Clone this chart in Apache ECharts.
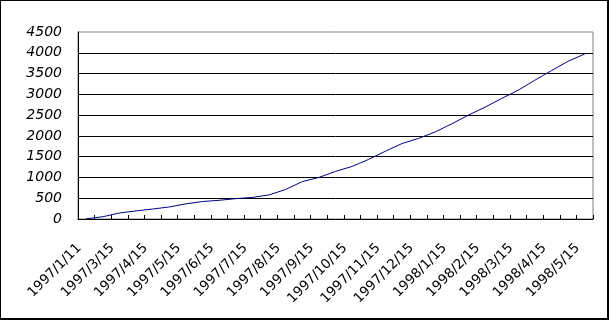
<!DOCTYPE html>
<html>
<head>
<meta charset="utf-8">
<script src="https://cdn.jsdelivr.net/npm/echarts@6/dist/echarts.min.js"></script>
<style>html,body{margin:0;padding:0;background:#fff}#c{width:611px;height:321px}</style>
</head>
<body>
<div id="c"></div>
<script>
const categories = [
  '1997/1/11','1997/3/1','1997/3/15','1997/4/1','1997/4/15','1997/5/1','1997/5/15','1997/6/1',
  '1997/6/15','1997/7/1','1997/7/15','1997/8/1','1997/8/15','1997/9/1','1997/9/15','1997/10/1',
  '1997/10/15','1997/11/1','1997/11/15','1997/12/1','1997/12/15','1998/1/1','1998/1/15','1998/2/1',
  '1998/2/15','1998/3/1','1998/3/15','1998/4/1','1998/4/15','1998/5/1','1998/5/15'
];
const values = [
  5, 55, 145, 195, 240, 290, 365, 420,
  450, 490, 520, 580, 710, 900, 1000, 1145,
  1265, 1435, 1630, 1815, 1940, 2095, 2290, 2500,
  2690, 2900, 3100, 3340, 3570, 3795, 3970
];
const yTicks = [0, 500, 1000, 1500, 2000, 2500, 3000, 3500, 4000, 4500];

const chart = echarts.init(document.getElementById('c'), null, {renderer: 'canvas'});
chart.setOption({
  backgroundColor: '#ffffff',
  animation: false,
  graphic: [{
    type: 'rect', silent: true, z: 100,
    shape: {x: 0, y: 0, width: 608, height: 319},
    style: {fill: 'none', stroke: '#000', lineWidth: 2}
  }],
  grid: {
    left: 78, right: 18, top: 32, bottom: 102,
    show: true, borderColor: '#808080', borderWidth: 1, backgroundColor: 'transparent'
  },
  xAxis: {
    type: 'category',
    data: categories,
    boundaryGap: true,
    axisLine: {lineStyle: {color: '#000', width: 1}},
    axisTick: {show: true, inside: true, length: 4, interval: 0, lineStyle: {color: '#000'}},
    axisLabel: {
      interval: 1, rotate: 45, margin: 20,
      color: '#000', fontFamily: 'DejaVu Sans', fontSize: 13.5,
      formatter: function (v) { return '{t|' + v + '}'; },
      rich: {t: {color: '#000', fontFamily: 'DejaVu Sans', fontSize: 13.5, padding: [0, 10, 0, 0]}}
    },
    splitLine: {show: false}
  },
  yAxis: {
    type: 'value',
    min: yTicks[0], max: yTicks[yTicks.length - 1], interval: 500,
    axisLine: {show: true, lineStyle: {color: '#000', width: 1}},
    axisTick: {show: false},
    axisLabel: {
      margin: 16, color: '#000', fontFamily: 'DejaVu Sans', fontStyle: 'italic', fontSize: 14,
      formatter: function (v) { return String(v); }
    },
    splitLine: {show: true, showMinLine: false, showMaxLine: false, lineStyle: {color: '#000', width: 1}}
  },
  series: [{
    type: 'line',
    data: values,
    showSymbol: false,
    symbol: 'none',
    lineStyle: {color: '#000080', width: 1},
    z: 3
  }]
});
</script>
</body>
</html>
